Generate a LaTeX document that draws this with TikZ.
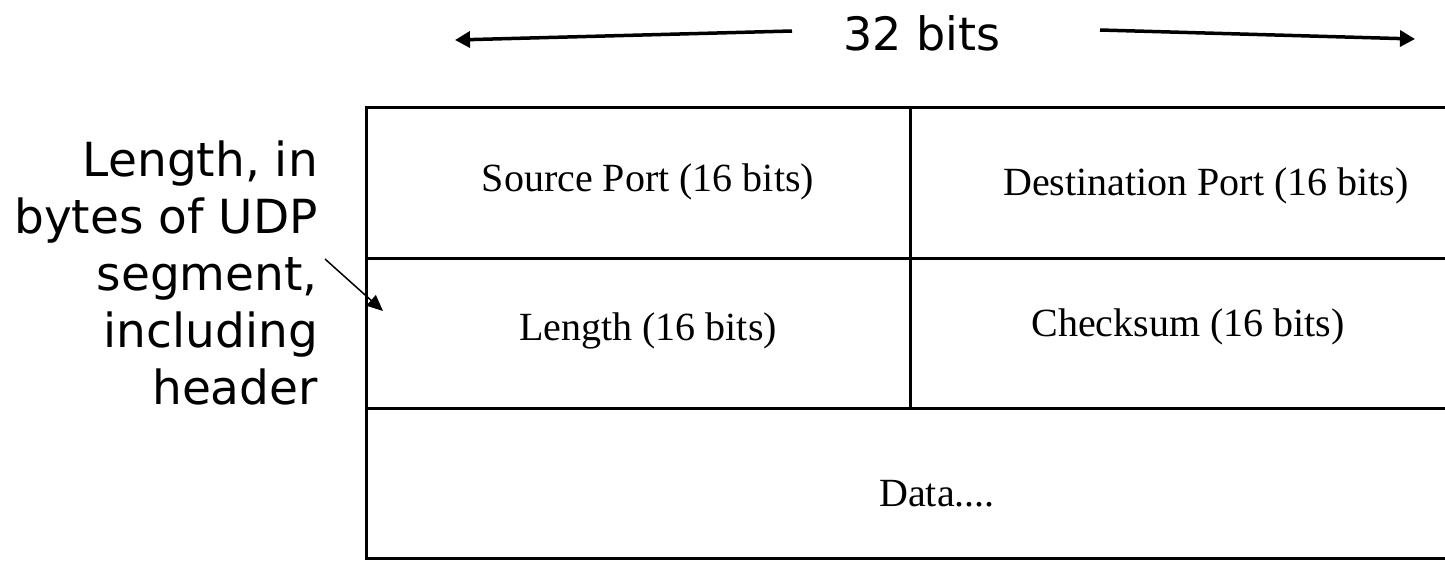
\documentclass[tikz,border=0pt]{standalone}
\usepackage{fontspec}
\setmainfont{Liberation Serif}
\newfontfamily\labelfont{DejaVu Sans}
\usetikzlibrary{arrows.meta}
\begin{document}
\begin{tikzpicture}[x=1pt,y=-1pt,
  grid/.style={line width=3pt,line cap=rect},
  cell/.style={font=\fontsize{40}{44}\selectfont,inner sep=0pt},
  side/.style={font=\labelfont\fontsize{47}{57}\selectfont,inner sep=0pt,align=right},
  span/.style={line width=3.5pt,-{Triangle[length=15pt,width=16pt]}},
  pointer/.style={line width=1.5pt,-{Triangle[length=16pt,width=14pt]}}]
\useasboundingbox (0,0) rectangle (1445,560);
% field layout of the header
\coordinate (tl) at (366,107);
\coordinate (bl) at (366,558);
\draw[grid] (1445,107) -- (tl) -- (bl) -- (1445,558);
\draw[grid] (366,258) -- (1445,258);
\draw[grid] (366,408) -- (1445,408);
\draw[grid] (910,107) -- (910,408);
% field names
\node[cell] (src) at (648,182) {Source Port (16 bits)};
\node[cell] (dst) at (1206,186) {Destination Port (16 bits)};
\node[cell] (len) at (648,331) {Length (16 bits)};
\node[cell] (chk) at (1188,327) {Checksum (16 bits)};
\node[cell] (data) at (937,494) {Data....};
% width marker
\node[font=\labelfont\fontsize{46}{50}\selectfont,inner sep=0pt] (width) at (922,33) {32 bits};
\coordinate (lend) at (455,40);
\coordinate (rend) at (1415,39);
\draw[span] (792,31) -- (lend);
\draw[span] (1100,30) -- (rend);
% note on the length field
\node[side,anchor=north east] (note) at (318,141) {Length, in\\bytes of UDP\\segment,\\including\\header};
\coordinate (ptr) at (383,311);
\draw[pointer] (325,259) -- (ptr);
\end{tikzpicture}
\end{document}
